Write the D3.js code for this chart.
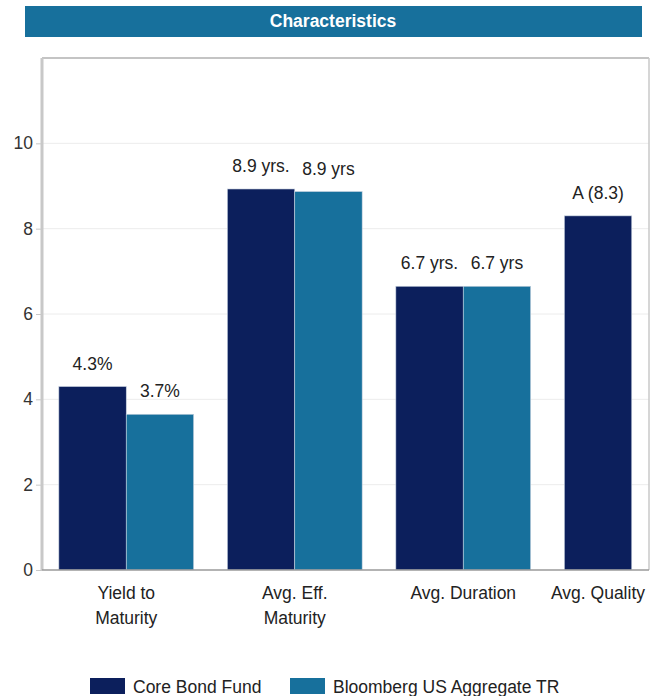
<!DOCTYPE html>
<html>
<head>
<meta charset="utf-8">
<script src="https://cdn.jsdelivr.net/npm/d3@7"></script>
<style>
  body { margin: 0; background: #fff; }
  text { font-family: "Liberation Sans", Arial, sans-serif; }
</style>
</head>
<body>
<div id="root"></div>
<script>
const categories = [["Yield to", "Maturity"], ["Avg. Eff.", "Maturity"], ["Avg. Duration"], ["Avg. Quality"]];
const seriesNames = ["Core Bond Fund", "Bloomberg US Aggregate TR"];
const fundValues = [4.3, 8.93, 6.65, 8.3];
const benchValues = [3.65, 8.87, 6.65, null];
const fundLabels = ["4.3%", "8.9 yrs.", "6.7 yrs.", "A (8.3)"];
const benchLabels = ["3.7%", "8.9 yrs", "6.7 yrs", ""];
const yTicks = [0, 2, 4, 6, 8, 10];
const colors = ["#0c1f5c", "#17709c"];

const W = 657, H = 696;
const fs = 17.5;
const frame = { left: 42, right: 649, top: 58, bottom: 570 };
// last category spills past the frame in the original, so the band range runs wider than the frame
const bandStep = 168.5;

const svg = d3.select("#root").append("svg")
  .attr("width", W).attr("height", H);

// title bar
svg.append("rect").attr("x", 25).attr("y", 6).attr("width", 617).attr("height", 31)
  .attr("fill", "#17709c");
svg.append("text").attr("x", 333).attr("y", 27).attr("text-anchor", "middle")
  .attr("fill", "#fff").attr("font-weight", "bold").attr("font-size", fs)
  .text("Characteristics");

const keys = categories.map(c => c.join(" "));
const x0 = d3.scaleBand().domain(keys)
  .range([frame.left, frame.left + bandStep * keys.length]).paddingInner(0.2).paddingOuter(0.1);
const x1 = d3.scaleBand().domain([0, 1]).range([0, x0.bandwidth()]);
const y = d3.scaleLinear().domain([0, 12]).range([frame.bottom, frame.top]);

svg.append("clipPath").attr("id", "plot").append("rect")
  .attr("x", frame.left).attr("y", frame.top)
  .attr("width", frame.right - frame.left).attr("height", frame.bottom - frame.top);

// gridlines
svg.append("g").selectAll("line").data(yTicks.filter(t => t > 0)).enter().append("line")
  .attr("x1", frame.left).attr("x2", frame.right)
  .attr("y1", d => y(d)).attr("y2", d => y(d))
  .attr("stroke", "#ececec").attr("stroke-width", 1);

// frame
svg.append("line").attr("x1", frame.left).attr("x2", frame.right).attr("y1", frame.top).attr("y2", frame.top)
  .attr("stroke", "#b0b0b0").attr("stroke-width", 1.5);
svg.append("line").attr("x1", frame.right).attr("x2", frame.right).attr("y1", frame.top).attr("y2", frame.bottom)
  .attr("stroke", "#c8c8c8").attr("stroke-width", 1.5);

const series = [fundValues, benchValues];
const labels = [fundLabels, benchLabels];
const bars = svg.append("g").attr("clip-path", "url(#plot)");
series.forEach((vals, s) => {
  keys.forEach((k, i) => {
    if (vals[i] == null) return;
    bars.append("rect")
      .attr("x", x0(k) + x1(s))
      .attr("y", y(vals[i]))
      .attr("width", x1.bandwidth())
      .attr("height", y(0) - y(vals[i]))
      .attr("fill", colors[s])
      .attr("stroke", "#c9d3e0").attr("stroke-width", 0.6);
    svg.append("text")
      .attr("x", x0(k) + x1(s) + x1.bandwidth() / 2)
      .attr("y", y(vals[i]) - 17)
      .attr("text-anchor", "middle").attr("font-size", fs).attr("fill", "#222")
      .text(labels[s][i]);
  });
});

// y axis
const yAxis = d3.axisLeft(y).tickValues(yTicks).tickSize(6).tickPadding(3);
const gy = svg.append("g").attr("transform", `translate(${frame.left},0)`).call(yAxis);
gy.select(".domain").remove();
gy.selectAll(".tick line").attr("stroke", "#c8c8c8");
gy.selectAll(".tick text").attr("font-size", fs).attr("fill", "#333")
  .attr("font-family", "Liberation Sans, Arial, sans-serif");
svg.append("line").attr("x1", frame.left).attr("x2", frame.left).attr("y1", frame.top).attr("y2", frame.bottom)
  .attr("stroke", "#c8c8c8").attr("stroke-width", 3);
svg.append("line").attr("x1", frame.left).attr("x2", frame.right).attr("y1", frame.bottom).attr("y2", frame.bottom)
  .attr("stroke", "#9a9a9a").attr("stroke-width", 1.5);

// category labels, kept inside the frame
categories.forEach((lines, i) => {
  const k = keys[i];
  const t = svg.append("text").attr("text-anchor", "middle").attr("font-size", fs).attr("fill", "#222");
  lines.forEach((ln, j) => {
    t.append("tspan").attr("dy", j === 0 ? 0 : 25).text(ln);
  });
  let cx = x0(k) + x0.bandwidth() / 2;
  const half = d3.max(t.selectAll("tspan").nodes(), n => n.getComputedTextLength()) / 2;
  if (cx + half > frame.right - 4) cx = frame.right - 4 - half;
  t.attr("y", 599);
  t.selectAll("tspan").attr("x", cx);
});

// legend
const legendX = [90, 290];
seriesNames.forEach((name, s) => {
  svg.append("rect").attr("x", legendX[s]).attr("y", 678).attr("width", 35).attr("height", 16)
    .attr("fill", colors[s]);
  svg.append("text").attr("x", legendX[s] + 43).attr("y", 693).attr("font-size", fs).attr("fill", "#222")
    .text(name);
});
</script>
</body>
</html>
